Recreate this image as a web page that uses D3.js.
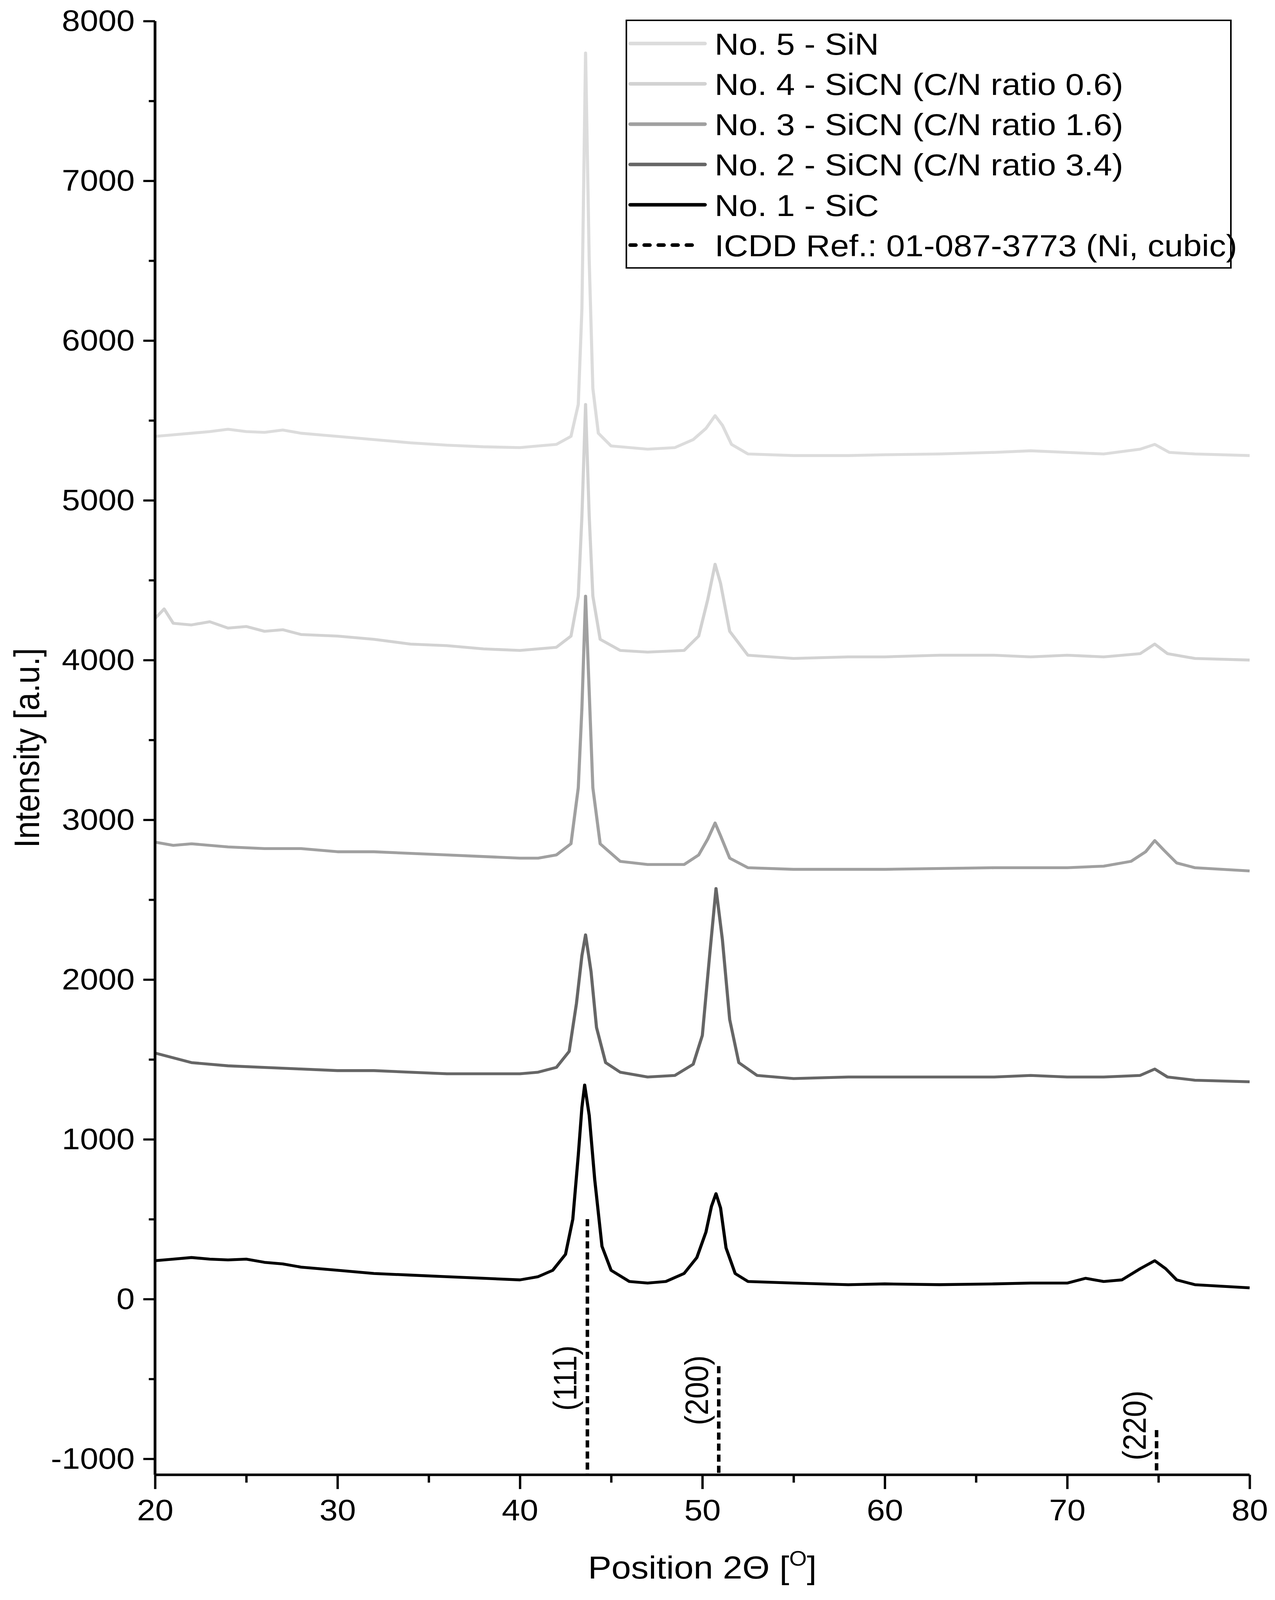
<!DOCTYPE html>
<html>
<head>
<meta charset="utf-8">
<script src="https://cdn.jsdelivr.net/npm/d3@7"></script>
<style>
html,body{margin:0;padding:0;background:#fff;overflow:hidden}
#chart{display:block;width:100vw;height:100vh}
text{font-family:"Liberation Sans",Arial,sans-serif}
</style>
</head>
<body>
<svg id="chart"></svg>
<script>
var width=3265, height=4485
var margin={left:397,right:65,top:59,bottom:351}

// series: [2theta, intensity]
var sin5=[[20,5400],[21,5410],[22,5420],[23,5430],[24,5445],[25,5430],[26,5425],[27,5440],[28,5420],[29,5410],[30,5400],[32,5380],[34,5360],[36,5345],[38,5335],[40,5330],[41,5340],[42,5350],[42.8,5400],[43.2,5600],[43.4,6200],[43.6,7800],[43.8,6500],[44,5700],[44.3,5420],[45,5340],[47,5320],[48.5,5330],[49.5,5380],[50.2,5450],[50.7,5530],[51.1,5470],[51.6,5350],[52.5,5290],[55,5280],[58,5280],[60,5285],[63,5290],[66,5300],[68,5310],[70,5300],[72,5290],[74,5320],[74.8,5350],[75.6,5300],[77,5290],[80,5280]]
var sicn4=[[20,4260],[20.5,4320],[21,4230],[22,4220],[23,4240],[24,4200],[25,4210],[26,4180],[27,4190],[28,4160],[30,4150],[32,4130],[34,4100],[36,4090],[38,4070],[40,4060],[41,4070],[42,4080],[42.8,4150],[43.2,4400],[43.4,4900],[43.6,5600],[43.8,4900],[44,4400],[44.4,4130],[45.5,4060],[47,4050],[49,4060],[49.8,4150],[50.3,4380],[50.7,4600],[51,4480],[51.5,4180],[52.5,4030],[55,4010],[58,4020],[60,4020],[63,4030],[66,4030],[68,4020],[70,4030],[72,4020],[74,4040],[74.8,4100],[75.5,4040],[77,4010],[80,4000]]
var sicn3=[[20,2860],[21,2840],[22,2850],[24,2830],[26,2820],[28,2820],[30,2800],[32,2800],[34,2790],[36,2780],[38,2770],[40,2760],[41,2760],[42,2780],[42.8,2850],[43.2,3200],[43.4,3700],[43.6,4400],[43.8,3800],[44,3200],[44.4,2850],[45.5,2740],[47,2720],[49,2720],[49.8,2780],[50.3,2880],[50.7,2980],[51,2900],[51.5,2760],[52.5,2700],[55,2690],[58,2690],[60,2690],[63,2695],[66,2700],[68,2700],[70,2700],[72,2710],[73.5,2740],[74.3,2800],[74.8,2870],[75.3,2810],[76,2730],[77,2700],[80,2680]]
var sicn2=[[20,1540],[21,1510],[22,1480],[24,1460],[26,1450],[28,1440],[30,1430],[32,1430],[34,1420],[36,1410],[38,1410],[40,1410],[41,1420],[42,1450],[42.7,1550],[43.1,1850],[43.4,2150],[43.6,2280],[43.9,2050],[44.2,1700],[44.7,1480],[45.5,1420],[47,1390],[48.5,1400],[49.5,1470],[50,1650],[50.4,2150],[50.75,2570],[51.1,2250],[51.5,1750],[52,1480],[53,1400],[55,1380],[58,1390],[60,1390],[63,1390],[66,1390],[68,1400],[70,1390],[72,1390],[74,1400],[74.8,1440],[75.5,1390],[77,1370],[80,1360]]
var sic1=[[20,240],[21,250],[22,260],[23,250],[24,245],[25,250],[26,230],[27,220],[28,200],[29,190],[30,180],[32,160],[34,150],[36,140],[38,130],[40,120],[41,140],[41.8,180],[42.5,280],[42.9,500],[43.2,900],[43.4,1200],[43.55,1340],[43.8,1150],[44.1,750],[44.5,330],[45,180],[46,110],[47,100],[48,110],[49,160],[49.7,260],[50.2,420],[50.5,580],[50.75,660],[51,570],[51.3,320],[51.8,160],[52.5,110],[55,100],[58,90],[60,95],[63,90],[66,95],[68,100],[70,100],[71,130],[72,110],[73,120],[74,190],[74.8,240],[75.4,190],[76,120],[77,90],[80,70]]

var series=[sin5,sicn4,sicn3,sicn2,sic1]
var seriesNames=["No. 5 - SiN","No. 4 - SiCN (C/N ratio 0.6)","No. 3 - SiCN (C/N ratio 1.6)","No. 2 - SiCN (C/N ratio 3.4)","No. 1 - SiC"]
var seriesColors=["#dcdcdc","#d2d2d2","#a0a0a0","#666666","#000000"]
var refName="ICDD Ref.: 01-087-3773 (Ni, cubic)"

// reference sticks: position, top intensity, hkl label, label start intensity
var refPos=[43.7,50.9,74.9]
var refTop=[500,-420,-820]
var refHkl=["(111)","(200)","(220)"]
var refLabelY=[-700,-790,-1010]

var xTicks=[20,30,40,50,60,70,80]
var yTicks=[-1000,0,1000,2000,3000,4000,5000,6000,7000,8000]

var svg=d3.select('#chart').attr('viewBox','0 0 '+width+' '+height)
.attr('preserveAspectRatio','none')

var x=d3.scaleLinear().domain([20,80]).range([margin.left,width-margin.right])
var y=d3.scaleLinear().domain([-1100,8000]).range([height-margin.bottom,margin.top])

var line=d3.line().x(function(d){return x(d[0])}).y(function(d){return y(d[1])})

series.forEach(function(s,i){
    svg.append('path').datum(s)
    .attr('d',line)
    .attr('fill','none')
    .attr('stroke',seriesColors[i])
    .attr('stroke-width',8)
    .attr('stroke-linejoin','round')
})

refPos.forEach(function(p,i){
    svg.append('line')
    .attr('x1',x(p)).attr('x2',x(p))
    .attr('y1',y(refTop[i])).attr('y2',y(-1100))
    .attr('stroke','#000').attr('stroke-width',9)
    .attr('stroke-dasharray','20,11')
    svg.append('text')
    .attr('transform','translate('+(x(p)-28)+','+y(refLabelY[i])+') rotate(-90)')
    .attr('font-size',84)
    .text(refHkl[i])
})

// axes
var xAxis=svg.append('g').attr('transform','translate(0,'+y(-1100)+')')
.call(d3.axisBottom(x).tickValues(xTicks).tickSize(40).tickPadding(28).tickFormat(d3.format('d')))
svg.append('g').attr('transform','translate(0,'+y(-1100)+')')
.call(d3.axisBottom(x).tickValues(d3.range(25,80,10)).tickSize(22).tickFormat(''))
.select('.domain').remove()

var yAxis=svg.append('g').attr('transform','translate('+margin.left+',0)')
.call(d3.axisLeft(y).tickValues(yTicks).tickSize(30).tickPadding(22).tickFormat(function(d){return String(d)}))
svg.append('g').attr('transform','translate('+margin.left+',0)')
.call(d3.axisLeft(y).tickValues(d3.range(-500,8000,1000)).tickSize(16).tickFormat(''))
.select('.domain').remove()

svg.selectAll('.domain').attr('stroke-width',7)
xAxis.select('.domain').attr('d','M'+x(20)+',0H'+x(80))
yAxis.select('.domain').attr('d','M0,'+y(-1100)+'V'+y(8000))
svg.selectAll('.tick line').attr('stroke-width',6)
svg.selectAll('.tick text').attr('font-size',84).attr('font-family','"Liberation Sans",Arial,sans-serif').attr('fill','#000')

// titles
var xt=svg.append('text').attr('x',(x(20)+x(80))/2).attr('y',4425)
.attr('text-anchor','middle').attr('font-size',90)
xt.append('tspan').text('Position 2\u0398 [')
xt.append('tspan').attr('dy',-36).attr('font-size',58).text('O')
xt.append('tspan').attr('dy',36).text(']')

svg.append('text')
.attr('transform','translate(100,'+y(3450)+') rotate(-90)')
.attr('text-anchor','middle').attr('font-size',90)
.text('Intensity [a.u.]')

// legend
var lg=svg.append('g')
lg.append('rect').attr('x',1604).attr('y',57).attr('width',1548).attr('height',694)
.attr('fill','#fff').attr('stroke','#000').attr('stroke-width',4)
var names=seriesNames.concat([refName])
names.forEach(function(n,i){
    var cy=122+i*113
    var l=lg.append('line').attr('x1',1614).attr('x2',1805).attr('y1',cy).attr('y2',cy)
    .attr('stroke-linecap','round').attr('stroke-width',10)
    if(i<5){l.attr('stroke',seriesColors[i])}
    else{l.attr('stroke','#000').attr('stroke-dasharray','14,22').attr('x2',1785)}
    lg.append('text').attr('x',1830).attr('y',cy+31).attr('font-size',86).text(n)
})
</script>
</body>
</html>
